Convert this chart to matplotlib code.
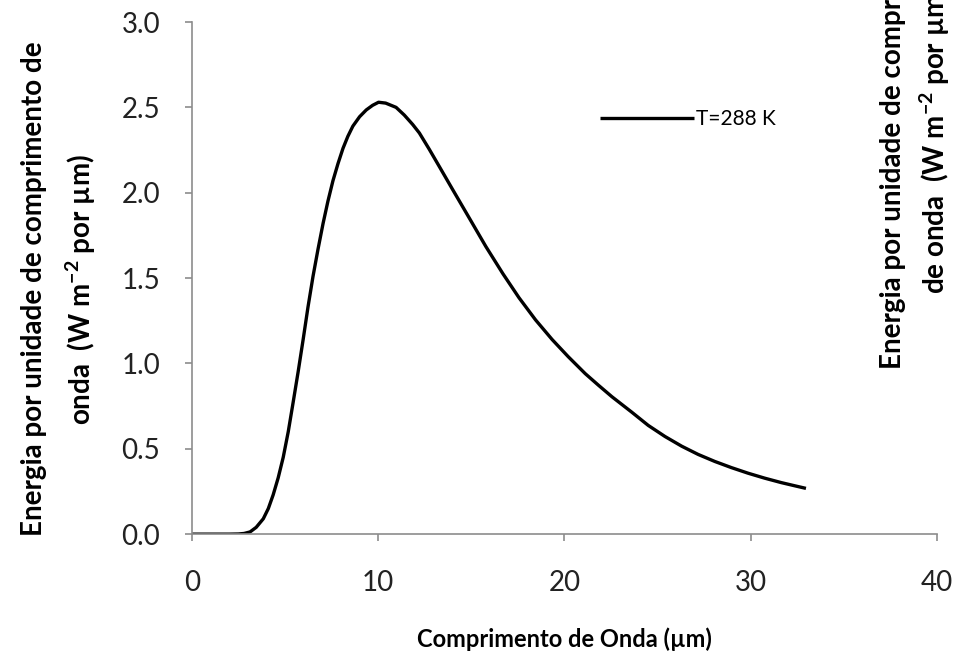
import matplotlib.pyplot as plt

# wavelength (um) and energy per unit wavelength
wavelength = [0, 1, 2, 2.5, 2.8, 3.12, 3.45, 3.83, 4.1, 4.36, 4.63, 4.9, 5.17, 5.43,
              5.7, 5.97, 6.23, 6.5, 6.77, 7.04, 7.3, 7.57, 7.84, 8.11, 8.37, 8.64,
              9.0, 9.36, 9.7, 10.02, 10.4, 10.96, 11.4, 11.85, 12.21, 12.74, 13.3,
              13.99, 14.9, 15.78, 16.7, 17.56, 18.45, 19.34, 20.2, 21.12, 21.83,
              22.55, 23.61, 24.5, 25.4, 26.3, 27.18, 28.07, 28.96, 29.86, 30.75,
              31.64, 32.3, 32.97]
energy = [0.0, 0.0, 0.0, 0.001, 0.004, 0.013, 0.04, 0.09, 0.15, 0.23, 0.33, 0.45,
          0.6, 0.77, 0.95, 1.14, 1.33, 1.51, 1.67, 1.82, 1.95, 2.07, 2.17, 2.26,
          2.33, 2.39, 2.445, 2.485, 2.512, 2.53, 2.525, 2.5, 2.455, 2.4, 2.35, 2.255,
          2.15, 2.02, 1.85, 1.685, 1.525, 1.385, 1.255, 1.14, 1.04, 0.94, 0.872,
          0.805, 0.715, 0.637, 0.572, 0.515, 0.467, 0.426, 0.39, 0.357, 0.328,
          0.302, 0.285, 0.268]
series_label = "T=288 K"
x_ticks = [0, 10, 20, 30, 40]
y_ticks = [0.0, 0.5, 1.0, 1.5, 2.0, 2.5, 3.0]

ylabel = "Energia por unidade de comprimento de\nonda  (W m$^{-2}$ por µm)"
ylabel_right = "Energia por unidade de comprimento\nde onda  (W m$^{-2}$ por µm)"

plt.rcParams['font.family'] = ['Lato', 'DejaVu Sans']
plt.rcParams['mathtext.default'] = 'regular'

fig = plt.figure(figsize=(9.56, 6.57), dpi=100)
ax = fig.add_axes([0.2008, 0.187, 0.7792, 0.7795])

ax.plot(wavelength, energy, color="black", linewidth=2.4, label=series_label,
        solid_joinstyle="round", solid_capstyle="butt")

ax.set_xlim(0, 40)
ax.set_ylim(0, 3.0)
ax.set_xticks(x_ticks)
ax.set_yticks(y_ticks)
ax.set_yticklabels([f"{v:.1f}" for v in y_ticks])

for side in ["top", "right"]:
    ax.spines[side].set_visible(False)
for side in ["left", "bottom"]:
    ax.spines[side].set_color("#8c8c8c")
    ax.spines[side].set_linewidth(1.2)
ax.tick_params(axis="both", colors="#8c8c8c", length=5, width=1.2, labelsize=20,
               labelcolor="#222222")
ax.tick_params(axis="x", pad=21)
ax.tick_params(axis="y", pad=18)

ax.legend(loc="center left", bbox_to_anchor=(0.523, 0.81), frameon=False,
          fontsize=15, handlelength=4.5, handletextpad=0.1)

fig.text(0.5905, 0.027, "Comprimento de Onda (µm)", ha="center", va="center",
         fontsize=17, fontweight="bold")
fig.text(0.062, 0.56, ylabel, rotation=90, ha="center", va="center",
         fontsize=20, fontweight="bold", multialignment="center", linespacing=1.6)
fig.text(0.958, 0.787, ylabel_right, rotation=90, ha="center", va="center",
         fontsize=20, fontweight="bold", multialignment="center", linespacing=1.45)

fig.savefig("out.png", dpi=100)
